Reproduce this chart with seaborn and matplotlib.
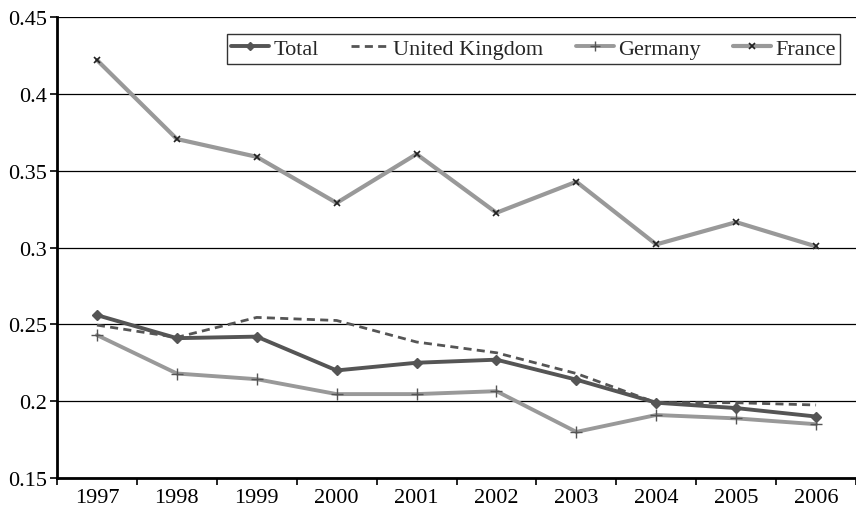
"""
Recreate the four-series line chart (Total / UK / Germany / France).
"""

import matplotlib

matplotlib.use("Agg")
import matplotlib.pyplot as plt
import seaborn as sns
import pandas as pd
from matplotlib.ticker import FixedLocator

years = [1997, 1998, 1999, 2000, 2001, 2002, 2003, 2004, 2005, 2006]
total = [0.256, 0.241, 0.242, 0.220, 0.225, 0.227, 0.214, 0.199, 0.1955, 0.190]
united_kingdom = [0.2495, 0.2415, 0.2545, 0.2525, 0.2385, 0.2315, 0.218, 0.199, 0.199, 0.1975]
germany = [0.243, 0.218, 0.2143, 0.2046, 0.2046, 0.2065, 0.180, 0.191, 0.1888, 0.185]
france = [0.422, 0.3706, 0.359, 0.329, 0.3608, 0.3226, 0.3428, 0.302, 0.3165, 0.3007]
y_ticks = [0.15, 0.2, 0.25, 0.3, 0.35, 0.4, 0.45]
y_labels = ["0.15", "0.2", "0.25", "0.3", "0.35", "0.4", "0.45"]

sns.set_theme(style="white")
plt.rcParams["font.family"] = ["Liberation Serif", "DejaVu Serif"]

df = pd.DataFrame(
    {
        "year": years * 4,
        "value": total + united_kingdom + germany + france,
        "series": ["Total"] * 10 + ["United Kingdom"] * 10 + ["Germany"] * 10 + ["France"] * 10,
    }
)

fig = plt.figure(figsize=(8.56, 5.10), dpi=100)
ax = fig.add_axes([57 / 856, 1 - 479 / 510, 1 - 57 / 856, (479 - 18) / 510])

# 每条线的样式
styles = {
    "Total": dict(color="#555555", lw=2.8, marker="D", ms=5.5, mfc="#555555", mec="#555555", ls="-"),
    "United Kingdom": dict(color="#555555", lw=2.0, marker=None, ls=(0, (2.9, 1.9))),
    "Germany": dict(color="#999999", lw=2.8, marker="+", ms=9, mew=1.0, mec="#555555", ls="-"),
    "France": dict(color="#999999", lw=3.0, marker="x", ms=5, mew=1.2, mec="#222222", ls="-"),
}

for name in ["Total", "United Kingdom", "Germany", "France"]:
    st = styles[name]
    sub = df[df["series"] == name]
    sns.lineplot(
        data=sub,
        x="year",
        y="value",
        ax=ax,
        label=name,
        color=st["color"],
        linewidth=st["lw"],
        linestyle=st["ls"],
        marker=st["marker"],
        markersize=st.get("ms"),
        markeredgewidth=st.get("mew", 1.0),
        markerfacecolor=st.get("mfc", st["color"]),
        markeredgecolor=st.get("mec", st["color"]),
    )

ax.set_xlim(1996.5, 2006.5)
ax.set_ylim(0.15, 0.45)
ax.set_xlabel("")
ax.set_ylabel("")

ax.set_yticks(y_ticks)
ax.set_yticklabels(y_labels)
ax.set_xticks(years)
ax.set_xticklabels([str(y) for y in years])
ax.xaxis.set_minor_locator(FixedLocator([y - 0.5 for y in years] + [2006.5]))

ax.tick_params(axis="x", which="major", length=0, labelsize=16, pad=7, colors="black")
ax.tick_params(axis="x", which="minor", length=5, width=1.2, direction="out", bottom=True, color="black")
ax.tick_params(axis="y", which="major", length=5, width=1.2, direction="out", left=True,
               labelsize=16, pad=2, colors="black")

ax.grid(axis="y", color="black", linewidth=0.9)
ax.set_axisbelow(True)
for s in ["top", "right"]:
    ax.spines[s].set_visible(False)
for s in ["left", "bottom"]:
    ax.spines[s].set_color("black")
    ax.spines[s].set_linewidth(2.0)

leg = ax.legend(
    loc="upper right",
    bbox_to_anchor=(0.980, 0.963),
    ncol=4,
    frameon=True,
    fancybox=False,
    fontsize=16,
    handlelength=1.7,
    handletextpad=0.2,
    columnspacing=1.45,
    borderpad=0.2,
    borderaxespad=0,
    markerscale=0.8,
)
leg.get_frame().set_edgecolor("black")
leg.get_frame().set_linewidth(1.0)

fig.savefig("out.png", dpi=100)
